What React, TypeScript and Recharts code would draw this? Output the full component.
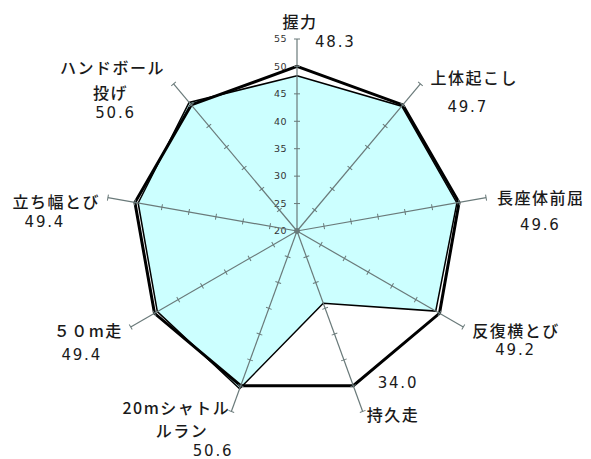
import React from "react";
import { RadarChart, Radar, PolarAngleAxis, PolarRadiusAxis } from "recharts";

const categories = [
  "握力",
  "上体起こし",
  "長座体前屈",
  "反復横とび",
  "持久走",
  "20mシャトルラン",
  "５０m走",
  "立ち幅とび",
  "ハンドボール投げ",
];
// how each category name is broken onto lines
const labelLines = [
  ["握力"],
  ["上体起こし"],
  ["長座体前屈"],
  ["反復横とび"],
  ["持久走"],
  ["20mシャトル", "ルラン"],
  ["５０m走"],
  ["立ち幅とび"],
  ["ハンドボール", "投げ"],
];
const scores = [48.3, 49.7, 49.6, 49.2, 34.0, 50.6, 49.4, 49.4, 50.6];
const standard = [50, 50, 50, 50, 50, 50, 50, 50, 50];
const radiusTicks = [20, 25, 30, 35, 40, 45, 50, 55];

const data = categories.map((name, i) => ({
  name,
  score: scores[i],
  standard: standard[i],
}));

const CX = 297;
const CY = 231;
const R = 192;
const SPOKE = "#6a7a7a";
const NUM_FONT = "'DejaVu Sans', sans-serif";
const JP_FONT = "'Noto Sans CJK JP', sans-serif";

// label offsets from the end of each spoke: [dx, dy, anchor]
type Place = [number, number, "start" | "middle" | "end"];
const labelLayout: { lines: Place[]; value: Place }[] = [
  { lines: [[3, -11, "middle"]], value: [18, 8, "start"] },
  { lines: [[10, 0, "start"]], value: [27, 28, "start"] },
  { lines: [[11, 6, "start"]], value: [34, 32, "start"] },
  { lines: [[9, 10, "start"]], value: [32, 28, "start"] },
  { lines: [[4, 10, "start"]], value: [15, -23, "start"] },
  { lines: [[-1, 3, "end"], [-23, 26, "end"]], value: [2, 45, "end"] },
  { lines: [[-8, 10, "end"]], value: [-49, 33, "middle"] },
  { lines: [[-8, 10, "end"]], value: [-63, 29, "middle"] },
  { lines: [[-61, -10, "middle"], [-63, 15, "middle"]], value: [-58, 34, "middle"] },
];

const spokeAngles = categories.map((_, i) => 90 - (360 / categories.length) * i);

const CategoryLabel = (props: any) => {
  const { index, payload } = props;
  const angle = ((payload?.coordinate ?? spokeAngles[index]) * Math.PI) / 180;
  const ex = CX + R * Math.cos(angle);
  const ey = CY - R * Math.sin(angle);
  const layout = labelLayout[index];
  const [vx, vy, va] = layout.value;
  return (
    <g>
      {labelLines[index].map((line, j) => {
        const [dx, dy, anchor] = layout.lines[j];
        return (
          <text
            key={j}
            x={ex + dx}
            y={ey + dy}
            textAnchor={anchor}
            fontSize={16}
            fontWeight={500}
            letterSpacing={1.5}
            fill="#1a1a1a"
            fontFamily={JP_FONT}
          >
            {line}
          </text>
        );
      })}
      <text
        x={ex + vx}
        y={ey + vy}
        textAnchor={va}
        fontSize={15}
        letterSpacing={1.8}
        fill="#1a1a1a"
        fontFamily={NUM_FONT}
      >
        {scores[index].toFixed(1)}
      </text>
    </g>
  );
};

const SpokeTick = (props: any) => {
  const { x, y, payload, spokeAngle, showLabel } = props;
  return (
    <g>
      <line
        x1={x - 3}
        y1={y}
        x2={x + 3}
        y2={y}
        stroke={SPOKE}
        strokeWidth={1}
        transform={`rotate(${90 - spokeAngle}, ${x}, ${y})`}
      />
      {showLabel && (
        <text
          x={x - 10}
          y={y}
          dy="0.35em"
          textAnchor="end"
          fontSize={9.5}
          letterSpacing={0.5}
          fill="#333"
          fontFamily={NUM_FONT}
        >
          {payload.value}
        </text>
      )}
    </g>
  );
};

export default function App() {
  return (
    <div style={{ position: "absolute", left: 0, top: 0, width: 591, height: 459, background: "#fff" }}>
      <RadarChart
        width={591}
        height={459}
        data={data}
        cx={CX}
        cy={CY}
        outerRadius={R}
        margin={{ top: 0, right: 0, bottom: 0, left: 0 }}
      >
        <PolarAngleAxis
          dataKey="name"
          axisLine={false}
          tickLine={false}
          tick={<CategoryLabel />}
        />
        <Radar
          dataKey="score"
          stroke="#000"
          strokeWidth={1.5}
          fill="#ccffff"
          fillOpacity={1}
          dot={false}
          isAnimationActive={false}
        />
        {spokeAngles.map((a, i) => (
          <PolarRadiusAxis
            key={i}
            radiusAxisId={i === 0 ? 0 : `spoke${i}`}
            angle={a}
            type="number"
            domain={[20, 55]}
            ticks={radiusTicks}
            allowDataOverflow
            axisLine={{ stroke: SPOKE, strokeWidth: 1.2 }}
            stroke={SPOKE}
            tick={<SpokeTick spokeAngle={a} showLabel={i === 0} />}
          />
        ))}
        <Radar
          dataKey="standard"
          stroke="#000"
          strokeWidth={3}
          fill="none"
          fillOpacity={0}
          dot={false}
          isAnimationActive={false}
        />
      </RadarChart>
    </div>
  );
}
